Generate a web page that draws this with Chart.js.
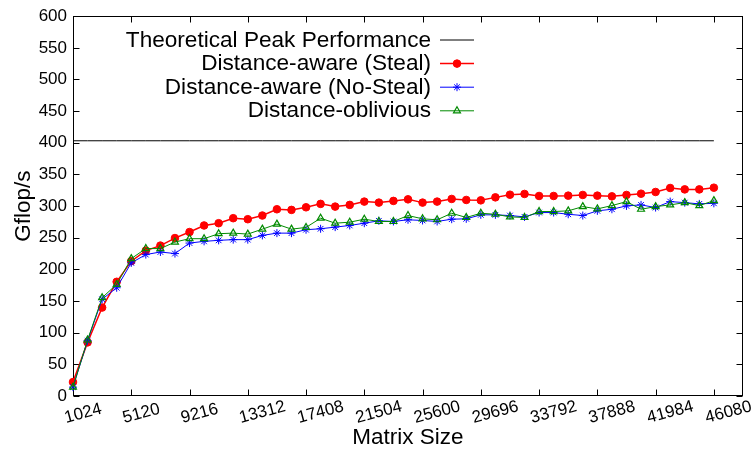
<!DOCTYPE html>
<html>
<head>
<meta charset="utf-8">
<script src="https://cdn.jsdelivr.net/npm/chart.js@4.4.0/dist/chart.umd.min.js"></script>
<style>
  html, body { margin: 0; padding: 0; background: #fff; }
  canvas { display: block; }
</style>
</head>
<body>
<canvas id="perfChart" width="751" height="452"></canvas>
<script>
const matrixSizes = [
  1024, 2048, 3072, 4096, 5120, 6144, 7168, 8192, 9216, 10240,
  11264, 12288, 13312, 14336, 15360, 16384, 17408, 18432, 19456, 20480,
  21504, 22528, 23552, 24576, 25600, 26624, 27648, 28672, 29696, 30720,
  31744, 32768, 33792, 34816, 35840, 36864, 37888, 38912, 39936, 40960,
  41984, 43008, 44032, 45056, 46080
];
const sizeTicks = [1024, 5120, 9216, 13312, 17408, 21504, 25600, 29696, 33792, 37888, 41984, 46080];
const gflopTicks = [0, 50, 100, 150, 200, 250, 300, 350, 400, 450, 500, 550, 600];

const peakGflops = 403.2;
const stealGflops = [
  22, 84.7, 139.7, 180.4, 213, 229.7, 237.6, 249.5, 259, 269.4,
  273, 280.9, 279.3, 285.1, 295, 294, 298.1, 303.5, 299.2, 301.9,
  307.1, 305.5, 308.2, 310.7, 305.5, 307.1, 311.3, 309.7, 309.1, 313.8,
  318, 319.2, 316, 316, 316.5, 317.6, 316.5, 315.4, 317.6, 319.6,
  322.3, 328.6, 326.4, 326.4, 329.1
];
const noStealGflops = [
  14, 87.4, 152.8, 171, 210.3, 223.4, 227.5, 225, 241.6, 244.3,
  245.9, 247, 247, 253.7, 257.3, 257.3, 262.7, 264.2, 266.8, 269.4,
  273, 276.8, 275.7, 278.4, 277.3, 275.7, 279.3, 279.9, 286.2, 286.2,
  285.1, 283, 289.8, 289.8, 287.1, 285.1, 292.5, 295, 300.3, 301.9,
  297.7, 307.1, 305.5, 303.5, 304.4
];
const obliviousGflops = [
  14, 88.5, 155.3, 176.4, 217, 232.9, 232.9, 243.2, 248.5, 248.5,
  256.4, 257.3, 255.8, 263.6, 271.5, 263.6, 266.3, 280.9, 273, 274.6,
  279.3, 275.7, 275.7, 285.1, 279.9, 278.4, 288.7, 282, 288.7, 287.1,
  283, 282, 291.4, 291.4, 292.5, 299.2, 295.6, 300.8, 307.1, 295,
  299.2, 301.9, 305.5, 300.8, 308.6
];

const FONT = "'Liberation Sans', Arial, sans-serif";
Chart.defaults.font.family = FONT;
Chart.defaults.color = '#000';

const toPoints = vals => matrixSizes.map((s, i) => ({ x: s, y: vals[i] }));

// gnuplot-like box with inward ticks on all four sides
const frameTicks = {
  id: 'frameTicks',
  beforeDatasetsDraw(chart) {
    const { ctx, chartArea: a, scales: { x, y } } = chart;
    const L = Math.round(a.left) + 0.5, R = Math.round(a.right) - 0.5;
    const T = Math.round(a.top) + 0.5, B = Math.round(a.bottom) - 0.5;
    ctx.save();
    ctx.strokeStyle = '#000';
    ctx.lineWidth = 1;
    ctx.beginPath();
    sizeTicks.forEach(v => {
      const px = Math.round(x.getPixelForValue(v)) + 0.5;
      ctx.moveTo(px, B); ctx.lineTo(px, B - 6);
      ctx.moveTo(px, T); ctx.lineTo(px, T + 6);
    });
    gflopTicks.forEach(v => {
      const py = Math.round(y.getPixelForValue(v)) + 0.5;
      ctx.moveTo(L, py); ctx.lineTo(L + 6, py);
      ctx.moveTo(R, py); ctx.lineTo(R - 6, py);
    });
    ctx.stroke();
    ctx.strokeRect(L, T, R - L, B - T);
    ctx.restore();
  }
};

// slanted size labels, left-justified at each tick
const sizeLabels = {
  id: 'sizeLabels',
  afterDraw(chart) {
    const { ctx, scales: { x } } = chart;
    ctx.save();
    ctx.fillStyle = '#000';
    ctx.font = '17px ' + FONT;
    ctx.textAlign = 'left';
    ctx.textBaseline = 'alphabetic';
    sizeTicks.forEach(v => {
      ctx.save();
      ctx.translate(x.getPixelForValue(v) - 7, 423);
      ctx.rotate(-15 * Math.PI / 180);
      ctx.fillText(String(v), 0, 0);
      ctx.restore();
    });
    ctx.restore();
  }
};

// key: right-aligned text, then a line sample with the marker
const keyBox = {
  id: 'keyBox',
  afterDraw(chart) {
    const { ctx } = chart;
    const textRight = 431, x0 = 440, x1 = 474, mx = 457;
    ctx.save();
    ctx.font = '22.6px ' + FONT;
    ctx.textAlign = 'right';
    ctx.textBaseline = 'alphabetic';
    chart.data.datasets.forEach((ds, i) => {
      const yy = 40 + i * 23.6;
      ctx.fillStyle = '#000';
      ctx.fillText(ds.label, textRight, yy + 6.5);
      ctx.strokeStyle = ds.borderColor;
      ctx.lineWidth = ds.borderWidth;
      ctx.beginPath();
      ctx.moveTo(x0, yy); ctx.lineTo(x1, yy);
      ctx.stroke();
      if (ds.pointRadius > 0) {
        ctx.fillStyle = ds.pointBackgroundColor;
        ctx.strokeStyle = ds.pointBorderColor;
        ctx.lineWidth = ds.pointBorderWidth;
        Chart.helpers.drawPoint(ctx, {
          pointStyle: ds.pointStyle, radius: ds.pointRadius,
          borderWidth: ds.pointBorderWidth, rotation: 0
        }, mx, yy);
      }
    });
    ctx.restore();
  }
};

new Chart(document.getElementById('perfChart').getContext('2d'), {
  type: 'line',
  data: {
    datasets: [
      {
        label: 'Theoretical Peak Performance',
        data: matrixSizes.map(s => ({ x: s, y: peakGflops })),
        borderColor: '#000',
        borderWidth: 1,
        pointRadius: 0,
        order: 4
      },
      {
        label: 'Distance-aware (Steal)',
        data: toPoints(stealGflops),
        borderColor: '#ff0000',
        borderWidth: 1.5,
        pointStyle: 'circle',
        pointRadius: 3.8,
        pointBackgroundColor: '#ff0000',
        pointBorderColor: '#ff0000',
        pointBorderWidth: 1,
        order: 3
      },
      {
        label: 'Distance-aware (No-Steal)',
        data: toPoints(noStealGflops),
        borderColor: '#0000ff',
        borderWidth: 1,
        pointStyle: 'star',
        pointRadius: 4,
        pointBackgroundColor: '#0000ff',
        pointBorderColor: '#0000ff',
        pointBorderWidth: 1,
        order: 2
      },
      {
        label: 'Distance-oblivious',
        data: toPoints(obliviousGflops),
        borderColor: '#008a00',
        borderWidth: 1,
        pointStyle: 'triangle',
        pointRadius: 4,
        pointBackgroundColor: 'rgba(0,0,0,0)',
        pointBorderColor: '#008a00',
        pointBorderWidth: 1.2,
        order: 1
      }
    ]
  },
  options: {
    responsive: false,
    animation: false,
    clip: false,
    layout: { padding: { left: 0, right: 8, top: 13, bottom: 0 } },
    plugins: {
      legend: { display: false },
      tooltip: { enabled: false }
    },
    elements: { line: { tension: 0 } },
    scales: {
      x: {
        type: 'linear',
        min: 1024,
        max: 48128,
        afterBuildTicks: s => { s.ticks = sizeTicks.map(v => ({ value: v })); },
        afterFit: s => { s.height = 56; },
        ticks: { display: false },
        grid: { display: false },
        border: { display: false },
        title: {
          display: true,
          text: 'Matrix Size',
          font: { size: 22.5 },
          padding: { top: 0, bottom: 1 }
        }
      },
      y: {
        min: 0,
        max: 600,
        afterBuildTicks: s => { s.ticks = gflopTicks.map(v => ({ value: v })); },
        afterFit: s => { s.width = 73; },
        ticks: { font: { size: 17 }, padding: 6, color: '#000' },
        grid: { display: false, drawTicks: false },
        border: { display: false },
        title: {
          display: true,
          text: 'Gflop/s',
          font: { size: 22.5 },
          padding: { top: 10, bottom: 0 }
        }
      }
    }
  },
  plugins: [frameTicks, sizeLabels, keyBox]
});
</script>
</body>
</html>
